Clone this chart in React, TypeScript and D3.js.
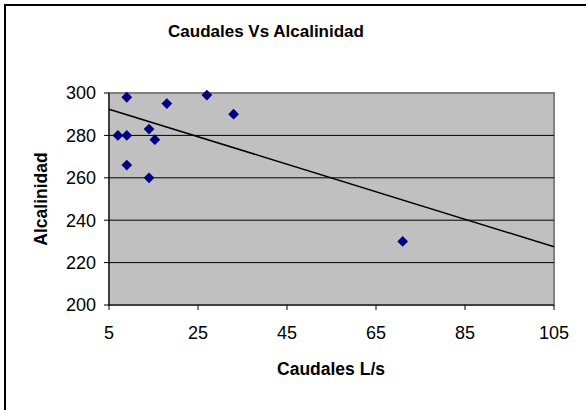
import React from "react";
import * as d3 from "d3";

const caudales = [7, 9, 9, 9, 14, 14, 15.3, 18, 27, 33, 71];
const alcalinidad = [280, 298, 280, 266, 283, 260, 278, 295, 299, 290, 230];
const xTicks = [5, 25, 45, 65, 85, 105];
const yTicks = [200, 220, 240, 260, 280, 300];
const trendSlope = -0.649;
const trendIntercept = 295.6;
const title = "Caudales Vs Alcalinidad";
const xTitle = "Caudales L/s";
const yTitle = "Alcalinidad";

const W = 586;
const H = 410;
const plot = { left: 109, right: 554, top: 93, bottom: 305 };

export default function App() {
  const x = d3.scaleLinear().domain([5, 105]).range([plot.left, plot.right]);
  const y = d3.scaleLinear().domain([200, 300]).range([plot.bottom, plot.top]);
  const diamond = d3.symbol().type(d3.symbolSquare).size(58)();
  const trend = d3
    .line<number>()
    .x((d) => x(d))
    .y((d) => y(trendSlope * d + trendIntercept));
  const font = "Arial, 'Liberation Sans', sans-serif";
  return (
    <svg
      width={W}
      height={H}
      style={{ position: "absolute", left: 0, top: 0, overflow: "hidden" }}
      fontFamily={font}
    >
      <rect x={0} y={0} width={W} height={H} fill="#fff" />
      <rect x={5} y={5} width={700} height={600} fill="#fff" stroke="#000" strokeWidth={2} />
      <text x={266} y={37} textAnchor="middle" fontSize={17} fontWeight="bold">
        {title}
      </text>
      <rect
        x={plot.left}
        y={plot.top}
        width={plot.right - plot.left}
        height={plot.bottom - plot.top}
        fill="#c0c0c0"
        stroke="#808080"
        strokeWidth={2}
      />
      {yTicks
        .filter((t) => t > 200 && t < 300)
        .map((t) => (
          <line key={t} x1={plot.left} x2={plot.right} y1={y(t)} y2={y(t)} stroke="#000" strokeWidth={1} />
        ))}
      <line x1={plot.left} x2={plot.left} y1={plot.top} y2={plot.bottom} stroke="#000" strokeWidth={1} />
      <line x1={plot.left} x2={plot.right} y1={plot.bottom} y2={plot.bottom} stroke="#000" strokeWidth={1} />
      {yTicks.map((t) => (
        <g key={t}>
          <line x1={plot.left - 5} x2={plot.left} y1={y(t)} y2={y(t)} stroke="#000" />
          <text x={96} y={y(t)} dy="0.35em" textAnchor="end" fontSize={18}>
            {t}
          </text>
        </g>
      ))}
      {xTicks.map((t) => (
        <g key={t}>
          <line x1={x(t)} x2={x(t)} y1={plot.bottom} y2={plot.bottom + 5} stroke="#000" />
          <text x={x(t)} y={339} textAnchor="middle" fontSize={18}>
            {t}
          </text>
        </g>
      ))}
      <path d={trend([5, 105]) || ""} fill="none" stroke="#000" strokeWidth={1.5} />
      {caudales.map((c, i) => (
        <path
          key={i}
          d={diamond || ""}
          transform={`translate(${x(c)},${y(alcalinidad[i])}) rotate(45)`}
          fill="#000080"
        />
      ))}
      <text x={331} y={375} textAnchor="middle" fontSize={17.5} fontWeight="bold">
        {xTitle}
      </text>
      <text
        transform={`translate(47,199) rotate(-90)`}
        textAnchor="middle"
        fontSize={17.5}
        fontWeight="bold"
      >
        {yTitle}
      </text>
    </svg>
  );
}
